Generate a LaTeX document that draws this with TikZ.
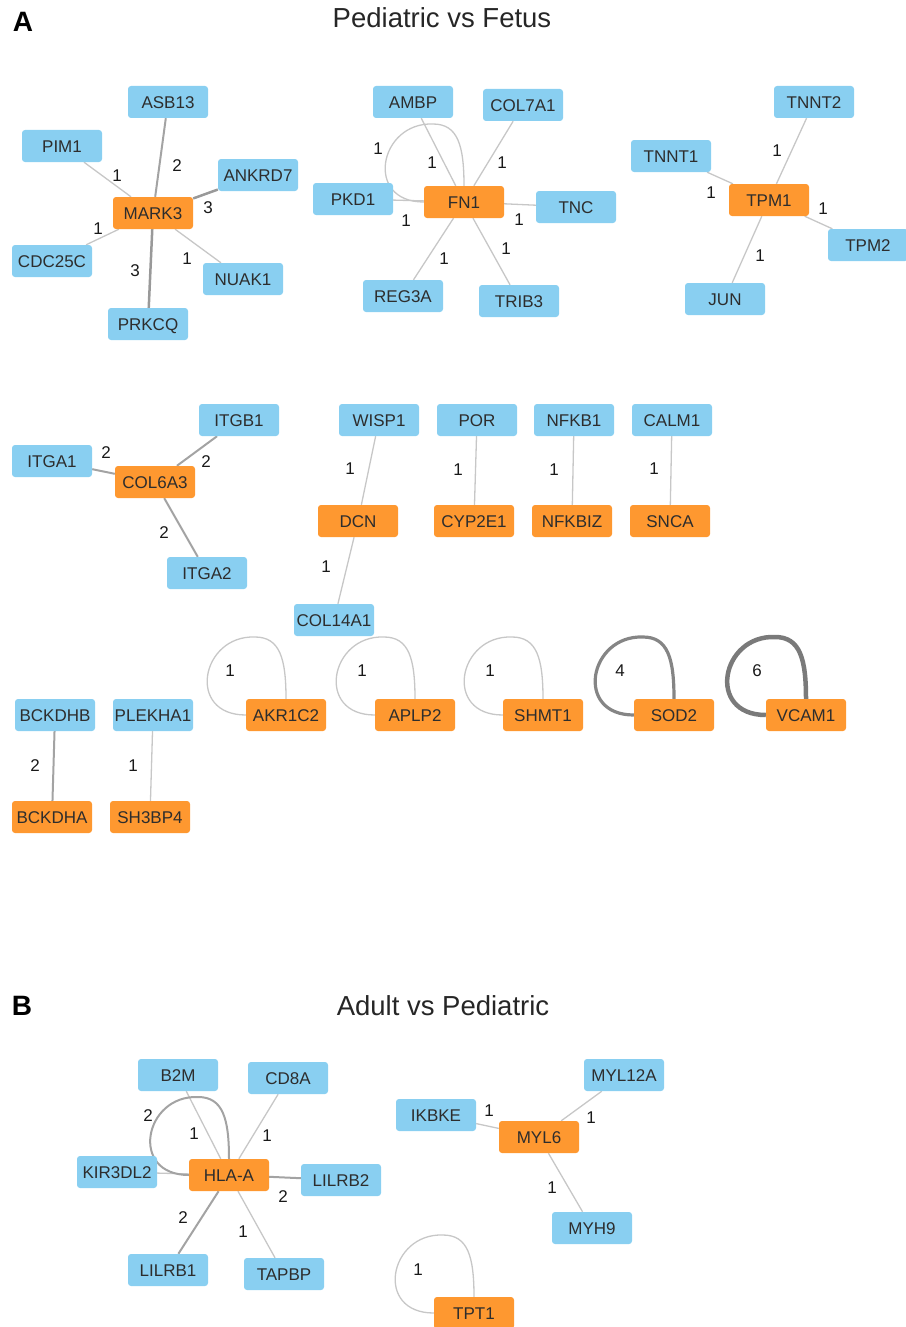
\documentclass[tikz,border=0pt]{standalone}
\usepackage{fontspec}
\setmainfont{Liberation Sans}
\usetikzlibrary{calc}

\definecolor{nodeblue}{RGB}{137,207,241}
\definecolor{nodeorange}{RGB}{254,152,48}
\definecolor{nodetext}{RGB}{45,45,45}

\pgfdeclarelayer{edges}
\pgfsetlayers{edges,main}

\tikzset{
  gene/.style={rectangle, rounded corners=3pt, minimum width=80pt, minimum height=32pt,
    inner sep=0pt, text height=12.2pt, text depth=0pt,
    font=\fontsize{17pt}{20pt}\selectfont, text=nodetext},
  partner/.style={gene, fill=nodeblue},
  hub/.style={gene, fill=nodeorange},
  wlab/.style={inner sep=0pt, text height=12.2pt, text depth=0pt,
    font=\fontsize{17pt}{20pt}\selectfont, text=black!90},
  paneltitle/.style={anchor=base, font=\fontsize{27.5pt}{30pt}\selectfont, text=black!85},
  panelletter/.style={anchor=base, font=\bfseries\fontsize{28pt}{30pt}\selectfont, text=black},
  w1/.style={draw=black!22, line width=1.3pt},
  w2/.style={draw=black!36, line width=2pt},
  w3/.style={draw=black!40, line width=2.5pt},
  w4/.style={draw=black!48, line width=3.2pt},
  w6/.style={draw=black!52, line width=4.5pt},
}

% self-interaction drawn as a teardrop loop from the west side to the top
\newcommand{\selfloop}[2]{%
  \draw[#1] (#2.west) .. controls +(-60,0) and +(-54,-2) .. ($(#2)+(-31,-78)$)
    .. controls +(25,0) and +(0,-40) .. (#2.north);}

\begin{document}
\begin{tikzpicture}[x=1pt,y=-1pt]
\useasboundingbox (0,0) rectangle (905,1327);

% ---------------- panel A ----------------
\node[panelletter] (panA) at (23,32) {A};
\node[paneltitle] (titleA) at (442,28) {Pediatric vs Fetus};

% MARK3 module
\node[hub] (mark3) at (153,213) {MARK3};
\node[partner] (asb13) at (168,102) {ASB13};
\node[partner] (pim1) at (62,146) {PIM1};
\node[partner] (ankrd7) at (258,175) {ANKRD7};
\node[partner] (cdc25c) at (52,261) {CDC25C};
\node[partner] (nuak1) at (243,279) {NUAK1};
\node[partner] (prkcq) at (148,324) {PRKCQ};
\node[wlab] (l01) at (177,165) {2};
\node[wlab] (l02) at (117,175) {1};
\node[wlab] (l03) at (208,207) {3};
\node[wlab] (l04) at (98,228) {1};
\node[wlab] (l05) at (187,258) {1};
\node[wlab] (l06) at (135,270) {3};

% FN1 module
\node[hub] (fn1) at (464,202) {FN1};
\node[partner] (ambp) at (413,102) {AMBP};
\node[partner] (col7a1) at (523,105) {COL7A1};
\node[partner] (pkd1) at (353,199) {PKD1};
\node[partner] (tnc) at (576,207) {TNC};
\node[partner] (reg3a) at (403,296) {REG3A};
\node[partner] (trib3) at (519,301) {TRIB3};
\node[wlab] (l07) at (378,148) {1};
\node[wlab] (l08) at (432,162) {1};
\node[wlab] (l09) at (502,162) {1};
\node[wlab] (l10) at (406,220) {1};
\node[wlab] (l11) at (519,219) {1};
\node[wlab] (l12) at (506,248) {1};
\node[wlab] (l13) at (444,258) {1};

% TPM1 module
\node[hub] (tpm1) at (769,200) {TPM1};
\node[partner] (tnnt2) at (814,102) {TNNT2};
\node[partner] (tnnt1) at (671,156) {TNNT1};
\node[partner] (tpm2) at (868,245) {TPM2};
\node[partner] (jun) at (725,299) {JUN};
\node[wlab] (l14) at (777,150) {1};
\node[wlab] (l15) at (711,192) {1};
\node[wlab] (l16) at (823,208) {1};
\node[wlab] (l17) at (760,255) {1};

% COL6A3 module
\node[hub] (col6a3) at (155,482) {COL6A3};
\node[partner] (itgb1) at (239,420) {ITGB1};
\node[partner] (itga1) at (52,461) {ITGA1};
\node[partner] (itga2) at (207,573) {ITGA2};
\node[wlab] (l18) at (106,452) {2};
\node[wlab] (l19) at (206,461) {2};
\node[wlab] (l20) at (164,532) {2};

% DCN module
\node[hub] (dcn) at (358,521) {DCN};
\node[partner] (wisp1) at (379,420) {WISP1};
\node[partner] (col14a1) at (334,620) {COL14A1};
\node[wlab] (l21) at (350,468) {1};
\node[wlab] (l22) at (326,566) {1};

% simple pairs
\node[partner] (por) at (477,420) {POR};
\node[hub] (cyp2e1) at (474,521) {CYP2E1};
\node[wlab] (l23) at (458,469) {1};
\node[partner] (nfkb1) at (574,420) {NFKB1};
\node[hub] (nfkbiz) at (572,521) {NFKBIZ};
\node[wlab] (l24) at (554,469) {1};
\node[partner] (calm1) at (672,420) {CALM1};
\node[hub] (snca) at (670,521) {SNCA};
\node[wlab] (l25) at (654,468) {1};

\node[partner] (bckdhb) at (55,715) {BCKDHB};
\node[hub] (bckdha) at (52,817) {BCKDHA};
\node[wlab] (l26) at (35,765) {2};
\node[partner] (plekha1) at (153,715) {PLEKHA1};
\node[hub] (sh3bp4) at (150,817) {SH3BP4};
\node[wlab] (l27) at (133,765) {1};

% self-interacting genes
\node[hub] (akr1c2) at (286,715) {AKR1C2};
\node[hub] (aplp2) at (415,715) {APLP2};
\node[hub] (shmt1) at (543,715) {SHMT1};
\node[hub] (sod2) at (674,715) {SOD2};
\node[hub] (vcam1) at (806,715) {VCAM1};
\node[wlab] (l28) at (230,670) {1};
\node[wlab] (l29) at (362,670) {1};
\node[wlab] (l30) at (490,670) {1};
\node[wlab] (l31) at (620,670) {4};
\node[wlab] (l32) at (757,670) {6};

% ---------------- panel B ----------------
\node[panelletter] (panB) at (22,1015) {B};
\node[paneltitle] (titleB) at (443,1015) {Adult vs Pediatric};

% HLA-A module
\node[hub] (hlaa) at (229,1175) {HLA-A};
\node[partner] (b2m) at (178,1075) {B2M};
\node[partner] (cd8a) at (288,1078) {CD8A};
\node[partner] (kir3dl2) at (117,1172) {KIR3DL2};
\node[partner] (lilrb2) at (341,1180) {LILRB2};
\node[partner] (lilrb1) at (168,1270) {LILRB1};
\node[partner] (tapbp) at (284,1274) {TAPBP};
\node[wlab] (l33) at (148,1115) {2};
\node[wlab] (l34) at (194,1133) {1};
\node[wlab] (l35) at (267,1135) {1};
\node[wlab] (l36) at (283,1196) {2};
\node[wlab] (l37) at (183,1217) {2};
\node[wlab] (l38) at (243,1231) {1};

% MYL6 module
\node[hub] (myl6) at (539,1137) {MYL6};
\node[partner] (myl12a) at (624,1075) {MYL12A};
\node[partner] (ikbke) at (436,1115) {IKBKE};
\node[partner] (myh9) at (592,1228) {MYH9};
\node[wlab] (l39) at (489,1110) {1};
\node[wlab] (l40) at (591,1117) {1};
\node[wlab] (l41) at (552,1187) {1};

\node[hub] (tpt1) at (474,1313) {TPT1};
\node[wlab] (l42) at (418,1269) {1};

% ---------------- interactions ----------------
\begin{pgfonlayer}{edges}
\draw[w2] (mark3) -- (asb13);
\draw[w1] (mark3) -- (pim1);
\draw[w3] (mark3) -- (ankrd7);
\draw[w1] (mark3) -- (cdc25c);
\draw[w1] (mark3) -- (nuak1);
\draw[w3] (mark3) -- (prkcq);

\draw[w1] (fn1) -- (ambp);
\draw[w1] (fn1) -- (col7a1);
\draw[w1] (fn1) -- (pkd1);
\draw[w1] (fn1) -- (tnc);
\draw[w1] (fn1) -- (reg3a);
\draw[w1] (fn1) -- (trib3);
\selfloop{w1}{fn1}

\draw[w1] (tpm1) -- (tnnt2);
\draw[w1] (tpm1) -- (tnnt1);
\draw[w1] (tpm1) -- (tpm2);
\draw[w1] (tpm1) -- (jun);

\draw[w2] (col6a3) -- (itgb1);
\draw[w2] (col6a3) -- (itga1);
\draw[w2] (col6a3) -- (itga2);

\draw[w1] (dcn) -- (wisp1);
\draw[w1] (dcn) -- (col14a1);

\draw[w1] (por) -- (cyp2e1);
\draw[w1] (nfkb1) -- (nfkbiz);
\draw[w1] (calm1) -- (snca);
\draw[w2] (bckdhb) -- (bckdha);
\draw[w1] (plekha1) -- (sh3bp4);

\selfloop{w1}{akr1c2}
\selfloop{w1}{aplp2}
\selfloop{w1}{shmt1}
\selfloop{w4}{sod2}
\selfloop{w6}{vcam1}

\draw[w1] (hlaa) -- (b2m);
\draw[w1] (hlaa) -- (cd8a);
\draw[w1] (hlaa) -- (kir3dl2);
\draw[w2] (hlaa) -- (lilrb2);
\draw[w2] (hlaa) -- (lilrb1);
\draw[w1] (hlaa) -- (tapbp);
\selfloop{w2}{hlaa}

\draw[w1] (myl6) -- (myl12a);
\draw[w1] (myl6) -- (ikbke);
\draw[w1] (myl6) -- (myh9);
\selfloop{w1}{tpt1}
\end{pgfonlayer}
\end{tikzpicture}
\end{document}
